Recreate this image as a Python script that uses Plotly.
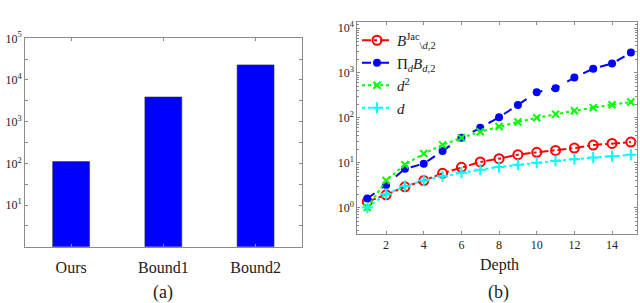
import plotly.graph_objects as go

# ---- Panel (a) data ----
methods = ["Ours", "Bound1", "Bound2"]
bound_values = [110, 3900, 23000]

# ---- Panel (b) data ----
depth = [1, 2, 3, 4, 5, 6, 7, 8, 9, 10, 11, 12, 13, 14, 15]
b_jac = [1.35, 1.92, 2.9, 4.0, 5.8, 7.9, 10.4, 12.3, 15.1, 17.0, 18.8, 21.2, 24.7, 26.9, 28.8]
prod_b = [1.59, 3.2, 7.3, 9.5, 18.3, 36, 60, 103, 194, 373, 457, 790, 1250, 1620, 2850]
d_sq = [1, 4, 9, 16, 25, 36, 49, 64, 81, 100, 121, 144, 169, 196, 225]
d_lin = [1, 2, 3, 4, 5, 6, 7, 8, 9, 10, 11, 12, 13, 14, 15]

left_ticks = [10**0.5, 10, 10**1.5, 100, 10**2.5, 1000, 10**3.5, 10000, 10**4.5, 100000]
left_ticktext = ["", "10<sup>1</sup>", "", "10<sup>2</sup>", "", "10<sup>3</sup>", "", "10<sup>4</sup>", "", "10<sup>5</sup>"]
right_ticks = [1, 10, 100, 1000, 10000]
right_ticktext = ["10<sup>0</sup>", "10<sup>1</sup>", "10<sup>2</sup>", "10<sup>3</sup>", "10<sup>4</sup>"]
right_minor = [0.3, 0.4, 0.5, 0.6, 0.7, 0.8, 0.9,
               2, 3, 4, 5, 6, 7, 8, 9,
               20, 30, 40, 50, 60, 70, 80, 90,
               200, 300, 400, 500, 600, 700, 800, 900,
               2000, 3000, 4000, 5000, 6000, 7000, 8000, 9000, 12000]
depth_ticks = [2, 4, 6, 8, 10, 12, 14]

SERIF = "Liberation Serif"
AX = "#8a8a8a"
TXT = "#222222"
W, H = 640, 303

fig = go.Figure()

fig.add_trace(go.Bar(x=methods, y=bound_values, width=0.4,
                     marker=dict(color="#0000ff", line=dict(color="#333333", width=0.6)),
                     xaxis="x", yaxis="y", showlegend=False))

fig.add_trace(go.Scatter(x=depth, y=b_jac, mode="lines+markers",
                         name="<i>B</i><sup>Jac</sup><sub>\\<i>d</i>,2</sub>",
                         line=dict(color="#ff0000", width=2, dash="dashdot"),
                         marker=dict(symbol="circle-open", size=9, color="#ff0000", line=dict(width=2)),
                         xaxis="x2", yaxis="y2"))
fig.add_trace(go.Scatter(x=depth, y=prod_b, mode="lines+markers",
                         name="Π<sub><i>d</i></sub><i>B</i><sub><i>d</i>,2</sub>",
                         line=dict(color="#0000ff", width=2, dash="dash"),
                         marker=dict(symbol="circle", size=8, color="#0000ff"),
                         xaxis="x2", yaxis="y2"))
fig.add_trace(go.Scatter(x=depth, y=d_sq, mode="lines+markers",
                         name="<i>d</i><sup>2</sup>",
                         line=dict(color="#00ff00", width=2, dash="dot"),
                         marker=dict(symbol="x-thin", size=7, color="#00ff00", line=dict(width=2, color="#00ff00")),
                         xaxis="x2", yaxis="y2"))
fig.add_trace(go.Scatter(x=depth, y=d_lin, mode="lines+markers",
                         name="<i>d</i>",
                         line=dict(color="#00ffff", width=2, dash="dot"),
                         marker=dict(symbol="cross-thin", size=8, color="#00ffff", line=dict(width=2, color="#00ffff")),
                         xaxis="x2", yaxis="y2"))

def px_x(p):
    return p / W

def px_y(p):
    return 1 - p / H

common = dict(showline=True, linecolor=AX, linewidth=1, mirror="ticks", ticks="inside",
              tickcolor=AX, showgrid=False, zeroline=False, automargin=False)
tickf = dict(family=SERIF, size=12, color=TXT)

fig.update_layout(
    width=W, height=H,
    margin=dict(l=0, r=0, t=0, b=0),
    paper_bgcolor="white", plot_bgcolor="white",
    font=dict(family=SERIF, color=TXT),
    xaxis=dict(domain=[px_x(25), px_x(301.7)], anchor="y", range=[-0.5, 2.5],
               ticklen=3, tickfont=dict(family=SERIF, size=16, color=TXT),
               ticklabelstandoff=6, **common),
    yaxis=dict(domain=[px_y(246.7), px_y(38.3)], anchor="x", type="log", range=[0, 5],
               tickmode="array", tickvals=left_ticks, ticktext=left_ticktext, ticklen=3,
               tickfont=tickf, **common),
    xaxis2=dict(domain=[px_x(357.3), px_x(636.7)], anchor="y2", range=[0.47, 15.31],
                tickmode="array", tickvals=depth_ticks, ticklen=3, tickfont=tickf, **common),
    yaxis2=dict(domain=[px_y(234), px_y(22.3)], anchor="x2", type="log", range=[-0.59, 4.13],
                tickmode="array", tickvals=right_ticks, ticktext=right_ticktext, ticklen=3,
                tickfont=tickf,
                minor=dict(ticks="inside", ticklen=2, tickcolor=AX, tickmode="array",
                           tickvals=right_minor),
                **common),
    legend=dict(x=px_x(357), y=px_y(24), xanchor="left", yanchor="top",
                bgcolor="rgba(0,0,0,0)", font=dict(family=SERIF, size=15, color=TXT),
                itemwidth=30, tracegroupgap=0),
    annotations=[
        dict(text="Depth", x=px_x(499), y=px_y(265), xref="paper", yref="paper",
             xanchor="center", yanchor="middle",
             showarrow=False, font=dict(family=SERIF, size=16, color=TXT)),
        dict(text="(a)", x=px_x(163), y=px_y(292), xref="paper", yref="paper",
             xanchor="center", yanchor="middle",
             showarrow=False, font=dict(family=SERIF, size=18, color=TXT)),
        dict(text="(b)", x=px_x(498), y=px_y(292), xref="paper", yref="paper",
             xanchor="center", yanchor="middle",
             showarrow=False, font=dict(family=SERIF, size=18, color=TXT)),
    ],
)

fig.write_html("out.html", config={"displayModeBar": False},
               post_script="document.body.style.margin='0';document.body.style.padding='0';")
